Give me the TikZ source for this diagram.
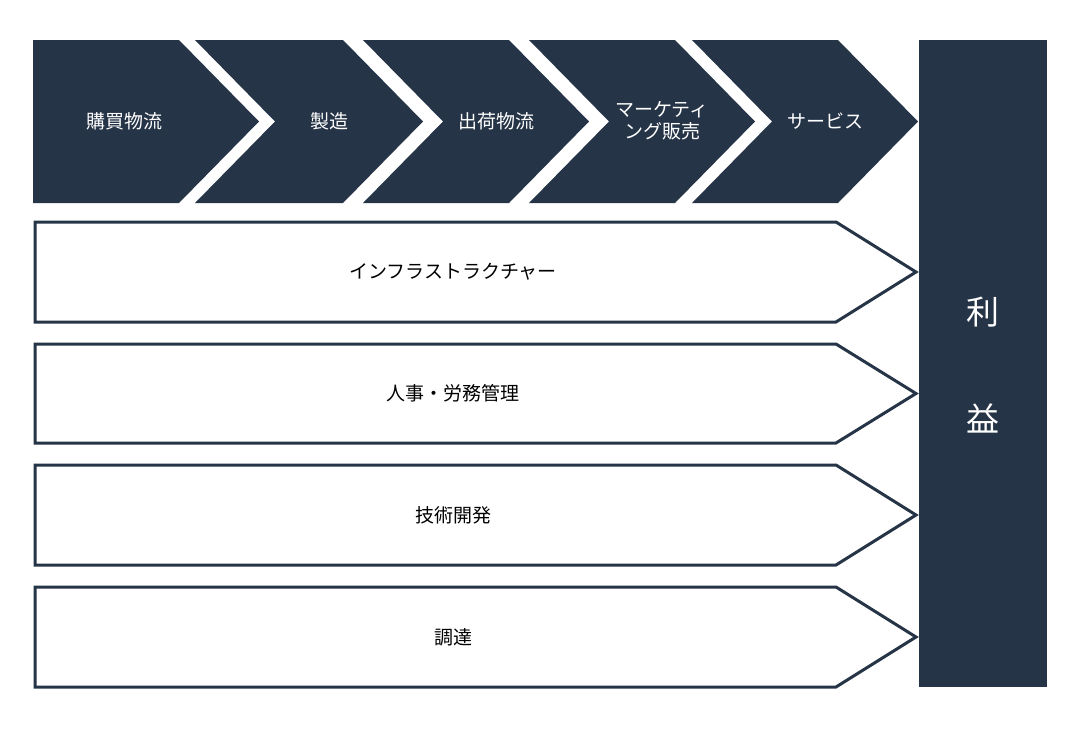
\documentclass[tikz,border=0pt]{standalone}
\usepackage{fontspec}
\setmainfont{Noto Sans CJK JP}
\definecolor{navy}{HTML}{263447}
\begin{document}
\begin{tikzpicture}[x=1pt,y=-1pt,
  dk/.style={fill=navy,draw=none},
  wt/.style={fill=white,draw=navy,line width=3pt,line join=miter},
  lw/.style={text=white,font=\fontsize{19}{22}\selectfont,align=center},
  lb/.style={text=black,font=\fontsize{19}{22}\selectfont}]
\useasboundingbox (0,0) rectangle (1080,729);
% chevrons
\fill[navy] (33,40) -- (179,40) -- (259,121.5) -- (179,203) -- (33,203) -- cycle;
\fill[navy] (195,40) -- (343,40) -- (423,121.5) -- (343,203) -- (195,203) -- (275,121.5) -- cycle;
\fill[navy] (363,40) -- (509,40) -- (589,121.5) -- (509,203) -- (363,203) -- (443,121.5) -- cycle;
\fill[navy] (529,40) -- (675,40) -- (755,121.5) -- (675,203) -- (529,203) -- (609,121.5) -- cycle;
\fill[navy] (692,40) -- (838,40) -- (918,121.5) -- (838,203) -- (692,203) -- (772,121.5) -- cycle;
\node[lw] (c1) at (124,121) {購買物流};
\node[lw] (c2) at (329,121) {製造};
\node[lw] (c3) at (496,121) {出荷物流};
\node[lw] (c4) at (662,121) {マーケティ\\ング販売};
\node[lw] (c5) at (825,121) {サービス};
% support rows
\foreach \t/\b/\n/\txt in {222/322/s1/インフラストラクチャー,344/443/s2/人事・労務管理,465/565/s3/技術開発,587/687/s4/調達}{
  \draw[wt] (35,\t) -- (836,\t) -- (916,{(\t+\b)/2}) -- (836,\b) -- (35,\b) -- cycle;
  \node[lb] (\n) at (453,{(\t+\b)/2}) {\txt};
}
% profit bar
\fill[navy] (919,40) rectangle (1047,687);
\node[text=white,font=\fontsize{33}{36}\selectfont] (p1) at (983,312) {利};
\node[text=white,font=\fontsize{33}{36}\selectfont] (p2) at (983,418) {益};
\end{tikzpicture}
\end{document}
